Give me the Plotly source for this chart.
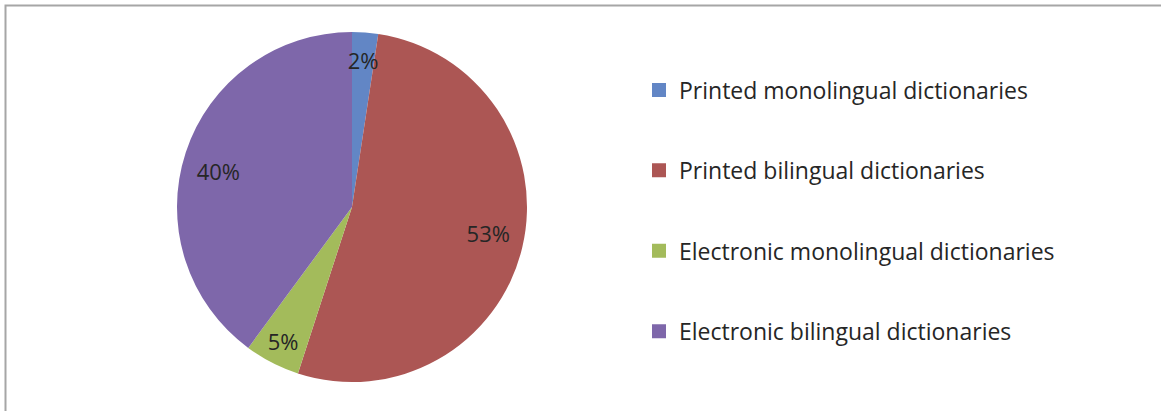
import plotly.graph_objects as go

categories = [
    "Printed monolingual dictionaries",
    "Printed bilingual dictionaries",
    "Electronic monolingual dictionaries",
    "Electronic bilingual dictionaries",
]
shares = [2.4, 52.6, 5.1, 39.9]
colors = ["#6286C5", "#AC5654", "#A3BB5B", "#7E67AA"]

W, H = 1161, 411
FONT = "Open Sans"
TXT = "#262626"
CX, CY, R = 352, 207, 175   # pie centre / radius in pixels
R_LBL = 110                 # helper pie for labels of the large slices
R_TINY = 159                # helper pie for label of the tiniest slice


def dom(r):
    return dict(x=[(CX - r) / W, (CX + r) / W],
                y=[1 - (CY + r) / H, 1 - (CY - r) / H])


n = len(shares)
small = [s < 10 for s in shares]
tiny = [s < 3 for s in shares]
clear = ["rgba(0,0,0,0)"] * n

fig = go.Figure()
# visible pie, label for the small (non-tiny) slice inside
show_a = [s and not t for s, t in zip(small, tiny)]
fig.add_trace(go.Pie(
    labels=categories, values=shares, sort=False,
    direction="clockwise", rotation=0,
    marker=dict(colors=colors, line=dict(width=0)),
    texttemplate=["%{percent:.0%}" if s else "" for s in show_a],
    textposition=["inside" if s else "none" for s in show_a],
    insidetextorientation="horizontal",
    textfont=dict(family=FONT, size=22, color=TXT),
    showlegend=False, hoverinfo="label+percent",
    domain=dom(R),
))
# transparent helper pie: tiny slice label inside
fig.add_trace(go.Pie(
    labels=categories, values=shares, sort=False,
    direction="clockwise", rotation=0,
    marker=dict(colors=clear, line=dict(width=0)),
    texttemplate=["%{percent:.0%}" if t else "" for t in tiny],
    textposition=["inside" if t else "none" for t in tiny],
    insidetextorientation="horizontal",
    textfont=dict(family=FONT, size=22, color=TXT),
    showlegend=False, hoverinfo="skip",
    domain=dom(R_TINY),
))
# transparent helper pie: labels of large slices placed just outside it
fig.add_trace(go.Pie(
    labels=categories, values=shares, sort=False,
    direction="clockwise", rotation=0,
    marker=dict(colors=clear, line=dict(width=0)),
    texttemplate=["" if s else "%{percent:.0%}" for s in small],
    textposition=["none" if s else "outside" for s in small],
    textfont=dict(family=FONT, size=22, color=TXT),
    showlegend=False, hoverinfo="skip",
    domain=dom(R_LBL),
))

for i, (name, col) in enumerate(zip(categories, colors)):
    fig.add_trace(go.Scatter(
        x=[None], y=[None], mode="markers", name=name,
        marker=dict(symbol="square", size=14, color=col),
        legendgroup=f"g{i}", showlegend=True,
    ))

fig.update_layout(
    width=W, height=H,
    margin=dict(l=0, r=0, t=0, b=0),
    paper_bgcolor="white", plot_bgcolor="white",
    xaxis=dict(visible=False), yaxis=dict(visible=False),
    uniformtext=dict(mode="show", minsize=22),
    legend=dict(
        x=639 / W, y=1 - 68.5 / H, xanchor="left", yanchor="top",
        font=dict(family=FONT, size=23, color=TXT),
        tracegroupgap=47.5, bgcolor="rgba(0,0,0,0)",
    ),
    shapes=[dict(type="rect", xref="paper", yref="paper",
                 x0=5.5 / W, x1=1.05, y0=-0.05, y1=1 - 5.5 / H,
                 line=dict(color="#A6A6A6", width=2), layer="above")],
)

fig.write_html("out.html")
